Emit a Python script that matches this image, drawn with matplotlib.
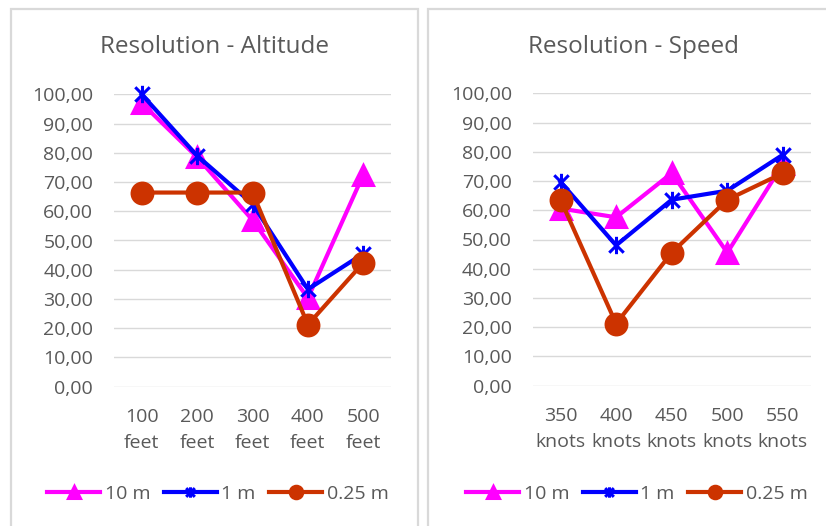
import matplotlib
matplotlib.use("Agg")
import matplotlib.pyplot as plt
from matplotlib.path import Path
from matplotlib.patches import Rectangle

# ---- data ----
alt_categories = ["100\nfeet", "200\nfeet", "300\nfeet", "400\nfeet", "500\nfeet"]
spd_categories = ["350\nknots", "400\nknots", "450\nknots", "500\nknots", "550\nknots"]
series_names = ["10 m", "1 m", "0.25 m"]

alt_10m = [97.0, 78.5, 57.0, 30.3, 72.5]
alt_1m = [100.0, 79.0, 62.5, 33.3, 45.5]
alt_025m = [66.4, 66.4, 66.4, 21.2, 42.4]

spd_10m = [60.6, 57.6, 72.7, 45.5, 75.8]
spd_1m = [69.7, 48.0, 63.6, 66.7, 79.0]
spd_025m = [63.6, 21.2, 45.5, 63.6, 72.7]

y_ticks = [0, 10, 20, 30, 40, 50, 60, 70, 80, 90, 100]

# ---- style ----
W, H = 826, 526
fig = plt.figure(figsize=(W / 100, H / 100), dpi=100)
fig.patch.set_facecolor("white")
FONT = ["Open Sans", "DejaVu Sans"]
TXT = "#595959"
GRID = "#d9d9d9"
colors = ["#FF00FF", "#0000FF", "#CC3300"]

star = Path([(-1, -1), (1, 1), (-1, 1), (1, -1), (0, -1.2), (0, 1.2)],
            [Path.MOVETO, Path.LINETO, Path.MOVETO, Path.LINETO, Path.MOVETO, Path.LINETO])
markers = ["^", star, "o"]
msizes = [14.5, 12.5, 15]


def px_axes(x0, x1, ytop, ybot):
    return fig.add_axes([x0 / W, 1 - ybot / H, (x1 - x0) / W, (ybot - ytop) / H])


# panel borders
for (x0, x1) in [(11, 418), (428, 840)]:
    fig.patches.append(Rectangle((x0 / W, -0.1), (x1 - x0) / W, 1.1 - 9 / H,
                                 transform=fig.transFigure, fill=False,
                                 edgecolor=GRID, linewidth=1.6, zorder=0))


def panel(ax, cats, data, title, title_x):
    x = list(range(len(cats)))
    for vals, c, m, ms in zip(data, colors, markers, msizes):
        ax.plot(x, vals, color=c, lw=3, marker=m, markersize=ms,
                markeredgecolor=c, markerfacecolor=c, markeredgewidth=2.2,
                solid_joinstyle="round", clip_on=False)
    ax.set_xlim(-0.5, len(cats) - 0.5)
    ax.set_ylim(0, 100)
    ax.set_yticks(y_ticks)
    ax.set_yticklabels([f"{v:.2f}".replace(".", ",") for v in y_ticks],
                       fontfamily=FONT, fontsize=14, color=TXT)
    ax.set_xticks(x)
    ax.set_xticklabels(cats, fontfamily=FONT, fontsize=14, color=TXT, linespacing=1.6)
    ax.tick_params(axis="y", length=0, pad=15)
    ax.tick_params(axis="x", length=0, pad=15)
    ax.grid(axis="y", color=GRID, lw=1)
    ax.set_axisbelow(True)
    for s in ax.spines.values():
        s.set_visible(False)
    fig.text(title_x / W, 1 - 47 / H, title, ha="center", va="center",
             fontfamily=FONT, fontsize=17.5, color=TXT)
    return ax


ax1 = px_axes(114, 391, 94.3, 386.7)
panel(ax1, alt_categories, [alt_10m, alt_1m, alt_025m], "Resolution - Altitude", 214)
ax2 = px_axes(532.7, 810.7, 93.3, 385.7)
panel(ax2, spd_categories, [spd_10m, spd_1m, spd_025m], "Resolution - Speed", 633)

for ax, cx in [(ax1, 218), (ax2, 637)]:
    handles = ax.get_lines()
    leg = ax.legend(handles, series_names, loc="center", ncol=3,
                    bbox_to_anchor=(cx / W, 1 - 494 / H), bbox_transform=fig.transFigure,
                    frameon=False, handlelength=2.7, handletextpad=0.25,
                    columnspacing=0.7, markerscale=0.6,
                    prop={"family": FONT, "size": 14})
    for t in leg.get_texts():
        t.set_color(TXT)

fig.savefig("out.png", dpi=100, facecolor="white")
